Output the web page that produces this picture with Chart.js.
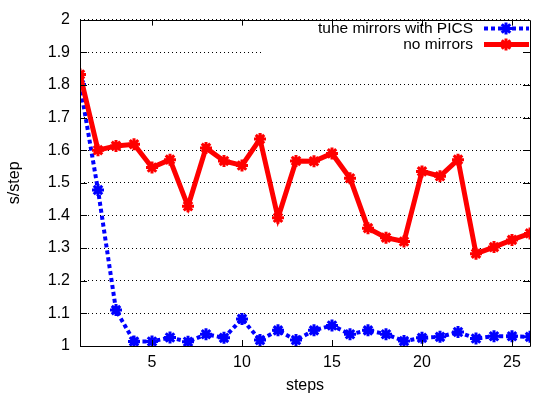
<!DOCTYPE html>
<html>
<head>
<meta charset="utf-8">
<script src="https://cdn.jsdelivr.net/npm/chart.js@4"></script>
<style>
html,body{margin:0;padding:0;background:#fff;}
#wrap{position:relative;width:545px;height:393px;}
</style>
</head>
<body>
<div id="wrap"><canvas id="c" width="545" height="393"></canvas></div>
<script>
const steps = [1,2,3,4,5,6,7,8,9,10,11,12,13,14,15,16,17,18,19,20,21,22,23,24,25,26];
const tuneMirrorsPics = [1.801,1.478,1.110,1.014,1.014,1.026,1.013,1.036,1.025,1.083,1.018,1.048,1.018,1.048,1.063,1.036,1.048,1.036,1.015,1.025,1.028,1.043,1.023,1.030,1.030,1.028];
const noMirrors = [1.832,1.600,1.613,1.618,1.547,1.571,1.428,1.607,1.567,1.553,1.634,1.393,1.567,1.566,1.590,1.514,1.361,1.332,1.320,1.535,1.520,1.571,1.283,1.303,1.325,1.345];
const xTicks = [5,10,15,20,25];
const seriesNames = ['tune mirrors with PICS','no mirrors'];

const FONT = '"Liberation Sans", Arial, sans-serif';
const FS = 16;
Chart.defaults.font.family = FONT;
Chart.defaults.color = '#000';

const toXY = arr => arr.map((v,i)=>({x:steps[i], y:v}));

const framePlugin = {
  id:'frame',
  beforeDatasetsDraw(chart){
    const ctx = chart.ctx;
    ctx.save();
    ctx.fillStyle = '#fff';
    ctx.fillRect(262, 20, 275, 34);
    ctx.restore();
  },
  afterDraw(chart){
    const {ctx, chartArea:a, scales} = chart;
    ctx.save();
    ctx.strokeStyle = '#000';
    ctx.lineWidth = 1;
    ctx.beginPath();
    ctx.rect(Math.round(a.left)+0.5, Math.round(a.top)+0.5, Math.round(a.right-a.left), Math.round(a.bottom-a.top));
    ctx.stroke();
    ctx.beginPath();
    xTicks.forEach(t=>{
      const px = Math.round(scales.x.getPixelForValue(t))+0.5;
      ctx.moveTo(px, a.bottom); ctx.lineTo(px, a.bottom-6);
      ctx.moveTo(px, a.top); ctx.lineTo(px, a.top+6);
    });
    scales.y.ticks.forEach(t=>{
      const py = Math.round(scales.y.getPixelForValue(t.value))+0.5;
      ctx.moveTo(a.left, py); ctx.lineTo(a.left+7, py);
      ctx.moveTo(a.right, py); ctx.lineTo(a.right-7, py);
    });
    ctx.stroke();
    ctx.font = (FS-0.5) + 'px ' + FONT;
    ctx.textAlign = 'right';
    ctx.textBaseline = 'middle';
    const rows = [
      {name:seriesNames[0], y:29, color:'#0000ff', dash:[4,3]},
      {name:seriesNames[1], y:45, color:'#ff0000', dash:[]}
    ];
    rows.forEach(r=>{
      ctx.fillStyle = '#000';
      ctx.fillText(r.name, 473, r.y);
      ctx.strokeStyle = r.color;
      ctx.lineWidth = r.dash.length ? 4 : 5;
      ctx.setLineDash(r.dash);
      ctx.beginPath();
      ctx.moveTo(484, r.y-0.5); ctx.lineTo(529, r.y-0.5);
      ctx.stroke();
      ctx.setLineDash([]);
      ctx.fillStyle = r.color;
      ctx.lineWidth = 3;
      Chart.helpers.drawPoint(ctx, {pointStyle:'star', radius:6, rotation:0, borderWidth:3}, 506, r.y-0.5);
    });
    ctx.restore();
  }
};

new Chart(document.getElementById('c'), {
  type:'line',
  data:{
    datasets:[
      {label:seriesNames[0], data:toXY(tuneMirrorsPics), borderColor:'#0000ff', backgroundColor:'#0000ff',
       borderWidth:4, borderDash:[4,3], pointStyle:'star', pointRadius:6, pointBorderWidth:3,
       pointBorderColor:'#0000ff', tension:0, order:1},
      {label:seriesNames[1], data:toXY(noMirrors), borderColor:'#ff0000', backgroundColor:'#ff0000',
       borderWidth:5, pointStyle:'star', pointRadius:6, pointBorderWidth:3,
       pointBorderColor:'#ff0000', tension:0, order:0}
    ]
  },
  options:{
    responsive:false,
    animation:false,
    devicePixelRatio:1,
    layout:{padding:{left:0, right:15, top:13, bottom:0}},
    plugins:{legend:{display:false}, tooltip:{enabled:false}},
    scales:{
      x:{
        type:'linear', min:1, max:26,
        afterBuildTicks(s){ s.ticks = xTicks.map(v=>({value:v})); },
        afterFit(s){ s.height = 47; },
        grid:{display:false, drawTicks:false},
        border:{display:false},
        ticks:{font:{size:FS}, padding:7, maxRotation:0, color:'#000'},
        title:{display:true, text:'steps', font:{size:FS}, padding:{top:0,bottom:-2}, color:'#000'}
      },
      y:{
        type:'linear', min:1, max:2,
        ticks:{stepSize:0.1, font:{size:FS}, padding:10, color:'#000',
          callback:v=>String(Number(v.toFixed(1)))},
        afterFit(s){ s.width = 80; },
        grid:{drawTicks:false, color:'#000', lineWidth:1, drawOnChartArea:true},
        border:{display:false, dash:[1,3]},
        title:{display:true, text:'s/step', font:{size:FS}, padding:{top:5,bottom:0}, color:'#000'}
      }
    }
  },
  plugins:[framePlugin]
});
</script>
</body>
</html>
